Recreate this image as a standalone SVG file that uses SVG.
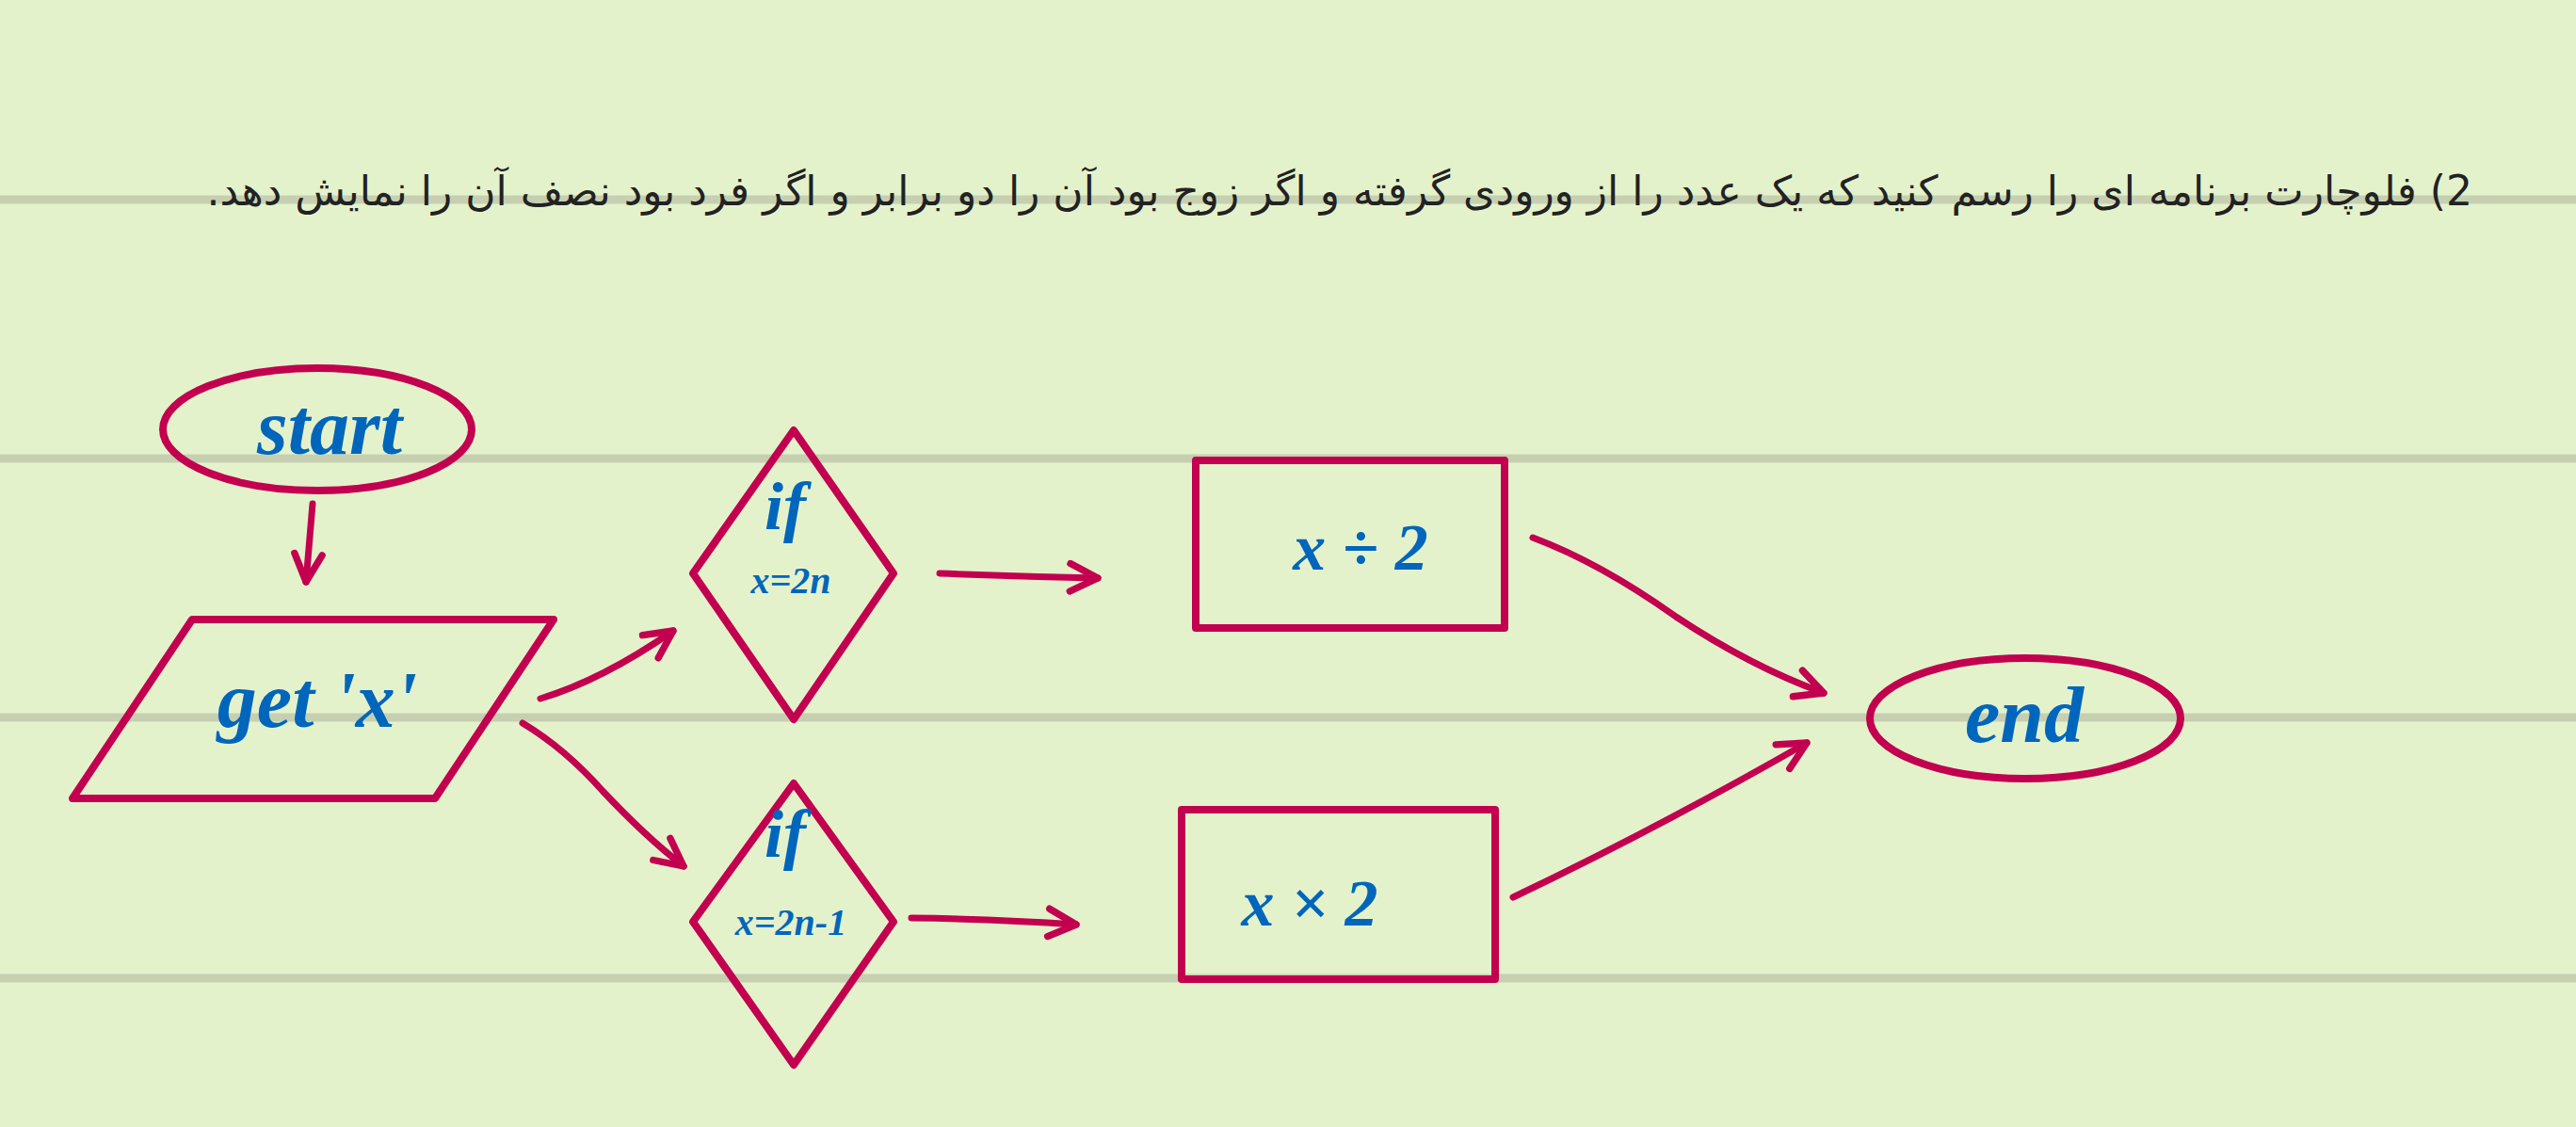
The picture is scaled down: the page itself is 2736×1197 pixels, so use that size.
<svg xmlns="http://www.w3.org/2000/svg" width="2736" height="1197" viewBox="0 0 2736 1197">
<style>
.rule{stroke:#c6d0b1;stroke-width:9}
.shape{fill:none;stroke:#c2004f;stroke-width:8;stroke-linejoin:round;stroke-linecap:round}
.conn{fill:none;stroke:#c2004f;stroke-width:7;stroke-linecap:round;stroke-linejoin:round}
.lbl{fill:#0066bb;font-family:"Liberation Serif",serif;font-style:italic;font-weight:bold;text-anchor:middle}
.hdr{fill:#222;font-family:"DejaVu Sans","Noto Sans",sans-serif;font-size:44px}
</style>
<defs>
<marker id="arr" viewBox="0 0 20 20" refX="17" refY="10" markerWidth="42" markerHeight="42" markerUnits="userSpaceOnUse" orient="auto">
<path d="M3,3 L17,10 L3,17" fill="none" stroke="#c2004f" stroke-width="3.5" stroke-linecap="round" stroke-linejoin="round"/>
</marker>
</defs>
<rect width="2736" height="1197" fill="#e4f2cc"/>
<g id="rules">
<line class="rule" x1="0" y1="212" x2="2736" y2="212"/>
<line class="rule" x1="0" y1="487" x2="2736" y2="487"/>
<line class="rule" x1="0" y1="762" x2="2736" y2="762"/>
<line class="rule" x1="0" y1="1039" x2="2736" y2="1039"/>
</g>
<g id="title">
<text class="hdr" x="2626" y="218" direction="rtl">2) فلوچارت برنامه ای را رسم کنید که یک عدد را از ورودی گرفته و اگر زوج بود آن را دو برابر و اگر فرد بود نصف آن را نمایش دهد.</text>
</g>
<g id="connectors">
<path class="conn" d="M332,535 L325,618" marker-end="url(#arr)"/>
<path class="conn" d="M574,742 Q640,722 715,670" marker-end="url(#arr)"/>
<path class="conn" d="M555,768 Q600,795 640,840 Q685,888 726,920" marker-end="url(#arr)"/>
<path class="conn" d="M998,609 Q1080,612 1166,614" marker-end="url(#arr)"/>
<path class="conn" d="M968,975 Q1060,976 1143,982" marker-end="url(#arr)"/>
<path class="conn" d="M1628,571 Q1700,598 1780,655 Q1860,708 1937,736" marker-end="url(#arr)"/>
<path class="conn" d="M1607,953 Q1760,880 1919,789" marker-end="url(#arr)"/>
</g>
<g id="start">
<ellipse class="shape" cx="337" cy="456" rx="164" ry="65"/>
<text class="lbl" x="350" y="482" font-size="84">start</text>
</g>
<g id="input">
<polygon class="shape" points="204,658 588,658 462,848 77,848"/>
<text class="lbl" x="337" y="772" font-size="84">get 'x'</text>
</g>
<g id="cond-even">
<polygon class="shape" points="843,457 949,609 843,764 736,609"/>
<text class="lbl" x="834" y="562" font-size="72">if</text>
<text class="lbl" x="840" y="630" font-size="40">x=2n</text>
</g>
<g id="cond-odd">
<polygon class="shape" points="843,832 949,979 843,1131 736,979"/>
<text class="lbl" x="834" y="910" font-size="72">if</text>
<text class="lbl" x="840" y="993" font-size="40">x=2n-1</text>
</g>
<g id="half">
<rect class="shape" x="1270" y="489" width="328" height="178"/>
<text class="lbl" x="1445" y="605" font-size="70">x ÷ 2</text>
</g>
<g id="double">
<rect class="shape" x="1255" y="860" width="333" height="180"/>
<text class="lbl" x="1391" y="983" font-size="70">x × 2</text>
</g>
<g id="end">
<ellipse class="shape" cx="2151" cy="763" rx="165" ry="64"/>
<text class="lbl" x="2150" y="788" font-size="84">end</text>
</g>
</svg>
